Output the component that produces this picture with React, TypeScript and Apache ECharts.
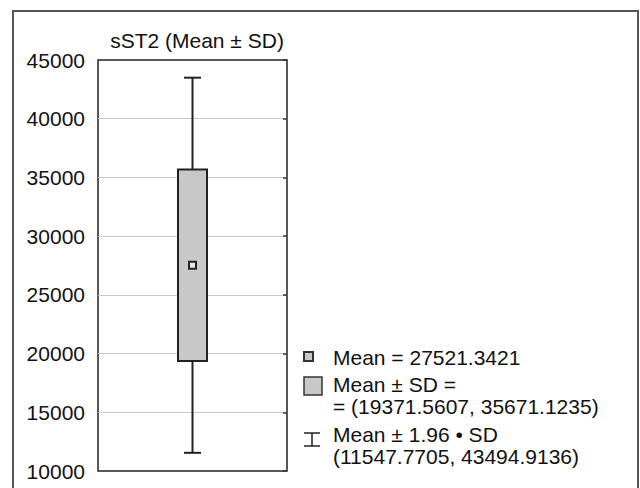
import React, { useEffect, useRef } from "react";
import * as echarts from "echarts";

const categories = ["sST2"];
const meanValues = [27521.3421];
const sdLow = [19371.5607];
const sdHigh = [35671.1235];
const ciLow = [11547.7705];
const ciHigh = [43494.9136];
const yMin = 10000;
const yMax = 45000;
const yInterval = 5000;
const titleText = "sST2 (Mean ± SD)";

const FONT = "'Liberation Sans', Arial, Helvetica, sans-serif";
const DARK = "#222222";
const FILL = "#c8c8c8";

export default function App() {
  const ref = useRef<HTMLDivElement>(null);
  useEffect(() => {
    if (!ref.current) return;
    const chart = echarts.init(ref.current, undefined, { renderer: "svg" });
    const data = categories.map((c, i) => [i, ciLow[i], sdLow[i], meanValues[i], sdHigh[i], ciHigh[i]]);
    const fmt = (v: number) => v.toFixed(4);
    const legendX = 333;
    const textEl = (text: string, top: number) => ({
      type: "text",
      left: legendX,
      top,
      style: { text, fontFamily: FONT, fontSize: 21, lineHeight: 22, fill: "#111" },
    });
    chart.setOption({
      animation: false,
      backgroundColor: "#ffffff",
      title: {
        text: titleText,
        left: 192,
        top: 25,
        textAlign: "center",
        textStyle: { fontFamily: FONT, fontSize: 21, fontWeight: "normal", color: "#111" },
      },
      grid: {
        left: 98,
        top: 60,
        right: 353,
        bottom: 17,
        show: true,
        borderColor: DARK,
        borderWidth: 1.5,
        backgroundColor: "transparent",
      },
      xAxis: {
        type: "category",
        data: categories,
        show: false,
      },
      yAxis: [
        {
          type: "value",
          min: yMin,
          max: yMax,
          interval: yInterval,
          axisLine: { show: false },
          axisTick: { show: false },
          axisLabel: {
            fontFamily: FONT,
            fontSize: 21,
            color: "#111",
            margin: 13,
            formatter: (v: number) => String(v),
          },
          splitLine: { show: true, showMinLine: false, showMaxLine: false, lineStyle: { color: "#c8c8c8", width: 1.2 } },
        },
        {
          type: "value",
          position: "right",
          min: yMin,
          max: yMax,
          interval: yInterval,
          axisLine: { show: false },
          axisTick: { show: true, inside: true, length: 4, lineStyle: { color: "#333", width: 1.5 } },
          axisLabel: { show: false },
          splitLine: { show: false },
        },
      ],
      series: [
        {
          type: "custom",
          data,
          renderItem: (params: any, api: any) => {
            const x = api.value(0);
            const pLow = api.coord([x, api.value(1)]);
            const pQ1 = api.coord([x, api.value(2)]);
            const pMean = api.coord([x, api.value(3)]);
            const pQ3 = api.coord([x, api.value(4)]);
            const pHigh = api.coord([x, api.value(5)]);
            const cx = pMean[0];
            const boxW = 29;
            const capW = 17;
            const ls = { stroke: DARK, lineWidth: 2 };
            return {
              type: "group",
              children: [
                { type: "line", shape: { x1: cx, y1: pHigh[1], x2: cx, y2: pQ3[1] }, style: ls },
                { type: "line", shape: { x1: cx - capW / 2, y1: pHigh[1], x2: cx + capW / 2, y2: pHigh[1] }, style: ls },
                { type: "line", shape: { x1: cx, y1: pQ1[1], x2: cx, y2: pLow[1] }, style: ls },
                { type: "line", shape: { x1: cx - capW / 2, y1: pLow[1], x2: cx + capW / 2, y2: pLow[1] }, style: ls },
                {
                  type: "rect",
                  shape: { x: cx - boxW / 2, y: pQ3[1], width: boxW, height: pQ1[1] - pQ3[1] },
                  style: { fill: FILL, stroke: DARK, lineWidth: 2 },
                },
                {
                  type: "rect",
                  shape: { x: cx - 3.5, y: pMean[1] - 3.5, width: 7, height: 7 },
                  style: { fill: "#e8e8e8", stroke: DARK, lineWidth: 2 },
                },
              ],
            };
          },
        },
      ],
      graphic: [
        {
          type: "rect",
          shape: { x: 13, y: 11, width: 625, height: 500 },
          style: { fill: "none", stroke: "#555", lineWidth: 2 },
          silent: true,
        },
        {
          type: "rect",
          shape: { x: 304, y: 352, width: 9, height: 9 },
          style: { fill: FILL, stroke: "#333", lineWidth: 2 },
        },
        {
          type: "rect",
          shape: { x: 304, y: 377, width: 18, height: 18 },
          style: { fill: FILL, stroke: "#333", lineWidth: 1.5 },
        },
        {
          type: "polyline",
          shape: { points: [[304, 433], [320, 433]] },
          style: { stroke: "#222", lineWidth: 1.5 },
        },
        {
          type: "polyline",
          shape: { points: [[304, 446], [320, 446]] },
          style: { stroke: "#222", lineWidth: 1.5 },
        },
        {
          type: "polyline",
          shape: { points: [[312, 433], [312, 446]] },
          style: { stroke: "#222", lineWidth: 1.5 },
        },
        textEl(`Mean = ${fmt(meanValues[0])}`, 346),
        textEl(`Mean ± SD =\n= (${fmt(sdLow[0])}, ${fmt(sdHigh[0])})`, 373),
        textEl(`Mean ± 1.96 • SD\n(${fmt(ciLow[0])}, ${fmt(ciHigh[0])})`, 423),
      ],
    });
    return () => chart.dispose();
  }, []);
  return <div ref={ref} style={{ position: "fixed", left: 0, top: 0, width: 640, height: 488 }} />;
}
